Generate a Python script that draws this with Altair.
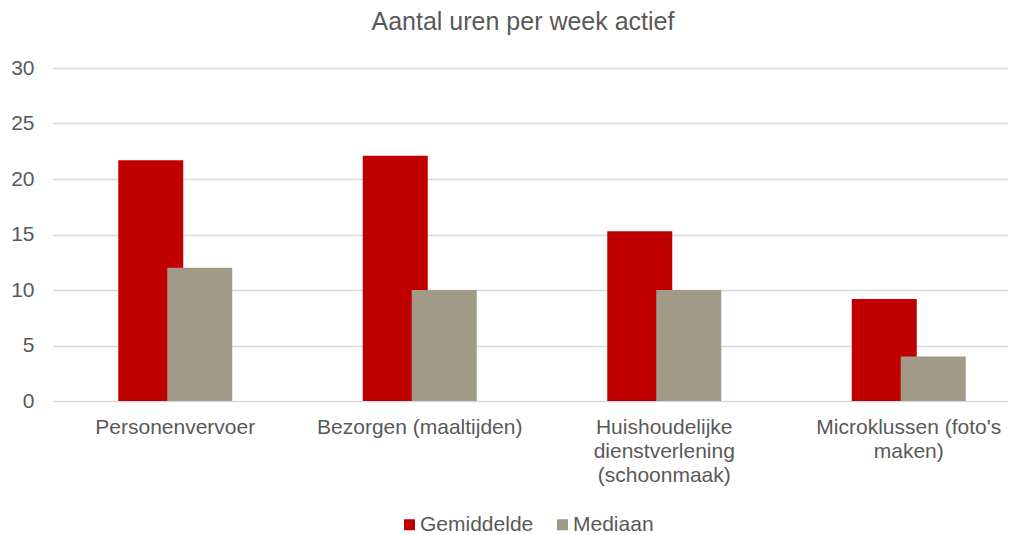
import json
import altair as alt
import pandas as pd

title_text = "Aantal uren per week actief"
categories = [
    "Personenvervoer",
    "Bezorgen (maaltijden)",
    "Huishoudelijke dienstverlening (schoonmaak)",
    "Microklussen (foto's maken)",
]
label_lines = [
    ["Personenvervoer"],
    ["Bezorgen (maaltijden)"],
    ["Huishoudelijke", "dienstverlening", "(schoonmaak)"],
    ["Microklussen (foto's", "maken)"],
]
series = ["Gemiddelde", "Mediaan"]
gemiddelde = [21.7, 22.1, 15.3, 9.2]
mediaan = [12, 10, 10, 4]
y_ticks = [0, 5, 10, 15, 20, 25, 30]
colors = ["#C00000", "#A19A86"]

rows = []
for c, g, m in zip(categories, gemiddelde, mediaan):
    rows.append({"cat": c, "series": "Gemiddelde", "value": g})
    rows.append({"cat": c, "series": "Mediaan", "value": m})
df = pd.DataFrame(rows)

# label expression producing multi-line labels
expr = ""
for c, lines in zip(categories, label_lines):
    expr += f"datum.label == {json.dumps(c)} ? {json.dumps(lines)} : "
expr += "datum.label"

TXT = "#595959"
FONT = "Liberation Sans"

x_enc = alt.X(
    "cat:N",
    sort=categories,
    scale=alt.Scale(range=[0, 978], paddingInner=0, paddingOuter=0),
    axis=alt.Axis(
        title=None, labelAngle=0, labelFontSize=21, labelColor=TXT, labelFont=FONT,
        labelPadding=15, labelLineHeight=24, ticks=False, domain=False,
        labelExpr=expr, labelLimit=400,
    ),
)
y_enc = alt.Y(
    "value:Q",
    scale=alt.Scale(domain=[0, 30]),
    axis=alt.Axis(
        title=None, values=y_ticks, labelFontSize=21, labelColor=TXT, labelFont=FONT,
        labelPadding=19, ticks=False, domain=False, grid=True,
        gridColor="#D9D9D9", gridWidth=1.3,
    ),
)
legend = alt.Legend(
    orient="none", legendX=346, legendY=446, direction="horizontal", title=None,
    symbolType="square", symbolSize=121, symbolStrokeWidth=0, labelFontSize=21,
    labelColor=TXT, labelFont=FONT, columnPadding=18, labelOffset=0, padding=0,
)
color_enc = alt.Color(
    "series:N", scale=alt.Scale(domain=series, range=colors), legend=legend
)

base = alt.Chart(df)
red = base.transform_filter(alt.datum.series == "Gemiddelde").mark_bar(
    width=65, xOffset=-24.5
).encode(x=x_enc, y=y_enc, color=color_enc)
gray = base.transform_filter(alt.datum.series == "Mediaan").mark_bar(
    width=65, xOffset=24.5
).encode(x=x_enc, y=y_enc, color=color_enc)

title = alt.Chart(pd.DataFrame({"t": [title_text]})).mark_text(
    fontSize=25, font=FONT, color=TXT, align="center", baseline="alphabetic"
).encode(text="t:N", x=alt.value(470), y=alt.value(-38))

chart = alt.layer(red, gray, title).properties(
    width=955,
    height=333,
    autosize=alt.AutoSizeParams(type="none"),
    padding={"left": 45, "top": 60, "right": 0, "bottom": 138},
).configure_view(stroke=None)

chart.save("out.html", embed_options={"renderer": "svg", "actions": False})
